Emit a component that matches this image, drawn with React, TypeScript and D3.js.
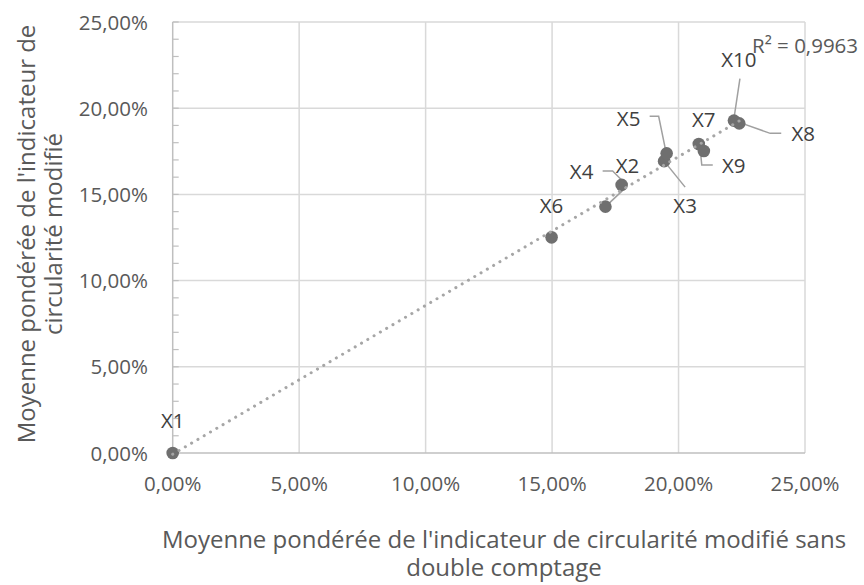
import React from 'react';
import { scaleLinear, range, mean, format } from 'd3';

// data (fractions)
const labels = ['X1', 'X2', 'X3', 'X4', 'X5', 'X6', 'X7', 'X8', 'X9', 'X10'];
const xValues = [0, 0.1711, 0.1943, 0.1775, 0.1953, 0.1498, 0.21, 0.224, 0.208, 0.2219];
const yValues = [0, 0.1429, 0.1693, 0.1555, 0.1738, 0.1251, 0.1752, 0.1912, 0.1792, 0.1928];
const tickValues = [0, 0.05, 0.1, 0.15, 0.2, 0.25];
const r2Text = 'R² = 0,9963';

// label placement relative to each point (px): [dx, baseline dy], leader polyline
const labelOffsets: [number, number][] = [
  [0, -25], [22, -34], [21, 52], [-40, -6], [-38, -27],
  [0, -24], [0, -24], [64, 18], [35, 29], [5, -54],
];
const leaders: [number, number][][] = [
  [], [[0, 0], [17, -16]], [[0, 0], [21, 26]], [[-19, -14], [-9, -14], [0, -5]],
  [[-17, -37], [-8, -37], [-1, -3]], [], [], [[0, -1], [31, 10], [42, 10]],
  [[1, 1], [3, 21], [14, 21]], [[6, -42], [0, -2]],
];

const W = 864;
const H = 585;
const left = 172.7;
const right = 805;
const top = 22;
const bottom = 453;

const pct = (v: number) => format('.2f')(v * 100).replace('.', ',') + '%';

export default function App() {
  const x = scaleLinear().domain([0, 0.25]).range([left, right]);
  const y = scaleLinear().domain([0, 0.25]).range([bottom, top]);

  // least squares trendline
  const mx = mean(xValues) as number;
  const my = mean(yValues) as number;
  let sxy = 0;
  let sxx = 0;
  xValues.forEach((v, i) => {
    sxy += (v - mx) * (yValues[i] - my);
    sxx += (v - mx) * (v - mx);
  });
  const slope = sxy / sxx;
  const intercept = my - slope * mx;
  const x0 = Math.min(...xValues);
  const x1 = Math.max(...xValues);

  const textColor = '#595959';
  const font = "'Open Sans', sans-serif";
  const minor = range(0, 0.2501, 0.01);

  return (
    <svg width={W} height={H} style={{ position: 'absolute', left: 0, top: 0 }} fontFamily={font}>
      <rect width={W} height={H} fill="#fff" />
      {tickValues.slice(1).map((t) => (
        <g key={t}>
          <line x1={x(t)} x2={x(t)} y1={top} y2={bottom} stroke="#d9d9d9" strokeWidth={1.5} />
          <line x1={left} x2={right} y1={y(t)} y2={y(t)} stroke="#d9d9d9" strokeWidth={1.5} />
        </g>
      ))}
      <line x1={left} x2={right} y1={bottom} y2={bottom} stroke="#bfbfbf" strokeWidth={1.5} />
      <line x1={left} x2={left} y1={top} y2={bottom} stroke="#bfbfbf" strokeWidth={1.5} />
      {minor.map((t) => (
        <line key={t} x1={left} x2={left + 6} y1={y(t)} y2={y(t)} stroke="#bfbfbf" strokeWidth={1.2} />
      ))}

      {tickValues.map((t) => (
        <text key={'y' + t} x={148} y={y(t) + 7.5} textAnchor="end" fontSize={20.5} fill={textColor}>
          {pct(t)}
        </text>
      ))}
      {tickValues.map((t) => (
        <text key={'x' + t} x={x(t)} y={bottom + 38} textAnchor="middle" fontSize={20.5} fill={textColor}>
          {pct(t)}
        </text>
      ))}

      {/* leader lines */}
      {leaders.map((pts, i) =>
        pts.length ? (
          <polyline
            key={'l' + i}
            points={pts.map(([dx, dy]) => `${x(xValues[i]) + dx},${y(yValues[i]) + dy}`).join(' ')}
            fill="none"
            stroke="#a0a0a0"
            strokeWidth={1.5}
          />
        ) : null
      )}

      {xValues.map((v, i) => (
        <circle key={'p' + i} cx={x(v)} cy={y(yValues[i])} r={6.3} fill="#6f6f6f" />
      ))}

      <line
        x1={x(x0)}
        y1={y(intercept + slope * x0)}
        x2={x(x1)}
        y2={y(intercept + slope * x1)}
        stroke="#a6a6a6"
        strokeWidth={3}
        strokeLinecap="round"
        strokeDasharray="0.1 7.2"
      />

      {labels.map((l, i) => (
        <text
          key={'t' + i}
          x={x(xValues[i]) + labelOffsets[i][0]}
          y={y(yValues[i]) + labelOffsets[i][1]}
          textAnchor="middle"
          fontSize={20.5}
          fill="#404040"
        >
          {l}
        </text>
      ))}

      <text x={752} y={53} fontSize={20.5} fill={textColor}>
        {r2Text}
      </text>

      <g fontSize={24} fill={textColor} textAnchor="middle">
        <text x={504} y={548}>
          Moyenne pondérée de l'indicateur de circularité modifié sans
        </text>
        <text x={504} y={576}>
          double comptage
        </text>
        <text transform="translate(35,234) rotate(-90)">Moyenne pondérée de l'indicateur de</text>
        <text transform="translate(62,234) rotate(-90)">circularité modifié</text>
      </g>
    </svg>
  );
}
